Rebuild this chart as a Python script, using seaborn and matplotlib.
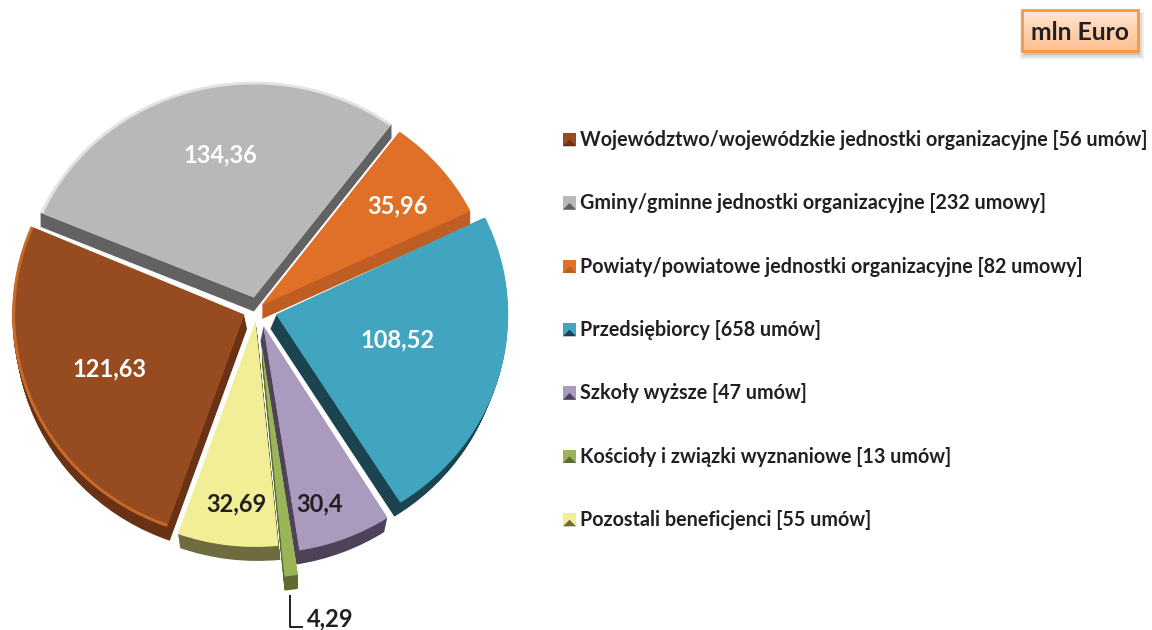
import matplotlib
matplotlib.use("Agg")
import matplotlib.pyplot as plt
import numpy as np
import seaborn as sns
from matplotlib.legend_handler import HandlerBase
from matplotlib.patches import Polygon, Rectangle
from matplotlib.transforms import Affine2D

categories = [
    "Województwo/wojewódzkie jednostki organizacyjne [56 umów]",
    "Gminy/gminne jednostki organizacyjne [232 umowy]",
    "Powiaty/powiatowe jednostki organizacyjne [82 umowy]",
    "Przedsiębiorcy [658 umów]",
    "Szkoły wyższe [47 umów]",
    "Kościoły i związki wyznaniowe [13 umów]",
    "Pozostali beneficjenci [55 umów]",
]
values = [121.63, 134.36, 35.96, 108.52, 30.4, 4.29, 32.69]
value_labels = ["121,63", "134,36", "35,96", "108,52", "30,4", "4,29", "32,69"]

top_colors = ["#964B20", "#B8B8B8", "#E06F28", "#42A5C0", "#AA9ABE", "#9AB558", "#F2EE96"]
rim_colors = ["#C86A28", "#E2E2E2", "#E06F28", "#42A5C0", "#AA9ABE", "#9AB558", "#F2EE96"]
side_colors = ["#6A3214", "#626262", "#BF5E24", "#1C4450", "#4D4258", "#5E6B30", "#6E6C3E"]

# pie layout, explode is in pixels here because the axes are in pixels
explode = [14, 12, 6, 20, 18, 37, 13]
squash = [0.97, 0.93, 0.93, 0.96, 0.98, 1.0, 0.97]  # perspective, back of the pie is flatter
side_shift = [3, 0, 0, -6, -3, 0, 2]
start = -109.5
radius = 232
depth = 14
center = (257, 630 - 309)

sns.set_theme(style="white")
plt.rcParams["font.family"] = ["Lato", "DejaVu Sans"]
plt.rcParams["font.weight"] = "bold"

fig = plt.figure(figsize=(11.52, 6.3), dpi=100)
ax = fig.add_axes([0, 0, 1, 1])


def pie_layer(colors, r, shift=0.0):
    wedges, _ = ax.pie(values, colors=sns.color_palette(colors), explode=explode, startangle=start,
                       counterclock=False, radius=r, center=center)
    for i, w in enumerate(wedges):
        cx, cy = w.center
        dx = side_shift[i] * shift / depth
        tr = Affine2D().translate(-cx, -cy).scale(1, squash[i]).translate(cx + dx, cy - shift)
        w.set_transform(tr + ax.transData)
        w.set_linewidth(0)
    return wedges


class PyramidHandler(HandlerBase):
    # small bevelled square like the swatches of the original
    def create_artists(self, legend, orig, x, y, w, h, fontsize, trans):
        i = wedges.index(orig)
        base = Rectangle((x, y), w, h, fc=top_colors[i], lw=0, transform=trans)
        low = Polygon([(x, y), (x + w, y), (x + w / 2, y + h / 2)], fc=side_colors[i], lw=0, transform=trans)
        return [base, low]


# side of the slices first, then rim and top
for d in range(depth, 0, -1):
    pie_layer(side_colors, radius, d)
pie_layer(rim_colors, radius)
wedges = pie_layer(top_colors, radius - 3)

ax.set_aspect("auto")
ax.set_xlim(0, 1152)
ax.set_ylim(0, 630)
ax.axis("off")

# value labels
label_pos = [(109, 369), (220, 155), (397, 206), (398, 340), (320, 504), (330, 619), (236, 504)]
label_col = ["white", "white", "white", "white", "#231F20", "#231F20", "#231F20"]
for txt, (x, y), c in zip(value_labels, label_pos, label_col):
    ax.text(x, 630 - y, txt, color=c, fontsize=17, fontweight="bold", ha="center", va="center")

# leader for the small slice
ax.plot([290, 290, 303], [630 - 595, 630 - 627, 630 - 627], color="#231F20", lw=1.4, solid_capstyle="butt")

# legend
leg = ax.legend(wedges, categories, loc="upper left", bbox_to_anchor=(563 / 1152, 1 - 130 / 630),
                frameon=False, fontsize=14.25, labelspacing=2.19, handlelength=0.66, handleheight=0.66,
                handletextpad=0.2, borderpad=0, borderaxespad=0, labelcolor="#231F20",
                handler_map={w: PyramidHandler() for w in wedges})
for t in leg.get_texts():
    t.set_fontweight("bold")

# unit box with a soft shadow
for grow, alpha in [(4, 0.12), (2, 0.16), (0, 0.22)]:
    ax.add_patch(Rectangle((1024 - grow, 630 - 55 - grow), 116 + 2 * grow, 42 + grow, color="#777777", alpha=alpha, lw=0))
grad = np.linspace(0, 1, 40).reshape(-1, 1)
cmap = matplotlib.colors.LinearSegmentedColormap.from_list("box", ["#FFE6D4", "#FDBF8E"])
ax.imshow(grad, extent=(1022, 1138, 630 - 51, 630 - 10), cmap=cmap, aspect="auto", zorder=2)
ax.add_patch(Rectangle((1022, 630 - 51), 116, 41, fill=False, ec="#F79646", lw=2, zorder=2.5))
ax.text(1080, 630 - 32, "mln Euro", color="#231F20", fontsize=17.8, fontweight="bold", ha="center", va="center")
ax.set_xlim(0, 1152)
ax.set_ylim(0, 630)
ax.set_aspect("auto")

fig.savefig("out.png", dpi=100)
